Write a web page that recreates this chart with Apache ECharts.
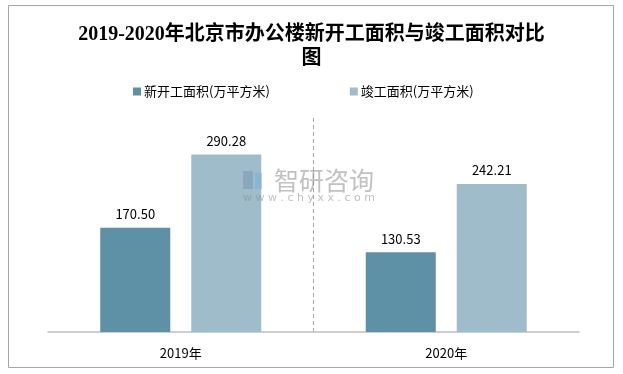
<!DOCTYPE html>
<html><head><meta charset="utf-8">
<script src="https://cdn.jsdelivr.net/npm/echarts@6/dist/echarts.min.js"></script>
<style>html,body{margin:0;padding:0;background:#fff}#c{width:623px;height:374px}</style>
</head><body><div id="c"></div>
<script>
const titleText = '2019-2020年北京市办公楼新开工面积与竣工面积对比\n图';
const categories = ['2019年', '2020年'];
const seriesNames = ['新开工面积(万平方米)', '竣工面积(万平方米)'];
const newStarts = [170.50, 130.53];
const completions = [290.28, 242.21];

const chart = echarts.init(document.getElementById('c'));
const labelStyle = {show: true, position: 'top', distance: 7, color: '#000', fontSize: 13,
  fontFamily: 'Noto Sans CJK SC, sans-serif', formatter: p => p.value.toFixed(2)};
chart.setOption({
  animation: false,
  backgroundColor: '#fff',
  title: {text: titleText, left: 'center', top: 18,
    textStyle: {fontFamily: 'Liberation Serif, Noto Sans CJK SC, serif', fontWeight: 'bold', fontSize: 20, lineHeight: 24, color: '#000'}},
  legend: {top: 80, left: 128, itemGap: 80, itemWidth: 8, itemHeight: 8, icon: 'rect',
    textStyle: {fontFamily: 'Noto Sans CJK SC, sans-serif', fontSize: 13, color: '#000', padding: [0,0,0,-2]},
    data: seriesNames},
  grid: {left: 48, right: 44, top: 118, bottom: 42},
  xAxis: {type: 'category', data: categories,
    axisLine: {lineStyle: {color: '#BFBFBF', width: 1.5}}, axisTick: {show: false},
    axisLabel: {color: '#000', fontSize: 13, margin: 15, fontFamily: 'Noto Sans CJK SC, sans-serif'},
    splitLine: {show: true, showMinLine: false, showMaxLine: false, lineStyle: {color: '#A6A6A6', type: [4, 3], width: 1}}},
  yAxis: {type: 'value', min: 0, max: 350, show: false, splitLine: {show: false}},
  graphic: [
    {type: 'rect', shape: {x: 8.5, y: 5.5, width: 605, height: 362}, style: {fill: 'none', stroke: '#A6A6A6', lineWidth: 1}, silent: true, z: -10},
    {type: 'text', left: 274, top: 168, z: 100, style: {text: '智研咨询', fontSize: 25, fill: 'rgba(140,140,140,0.55)', fontFamily: 'Noto Sans CJK SC, sans-serif'}},
    {type: 'text', left: 243, top: 193, z: 100, style: {text: 'w w w . c h y x x . c o m', fontSize: 11, fill: 'rgba(140,140,140,0.55)', fontFamily: 'DejaVu Sans, sans-serif'}},
    {type: 'rect', z: 100, shape: {x: 243, y: 171, width: 10, height: 18}, style: {fill: 'rgba(100,130,170,0.35)'}},
    {type: 'rect', z: 100, shape: {x: 255, y: 173, width: 7, height: 16}, style: {fill: 'rgba(110,170,220,0.45)'}}
  ],
  series: [
    {name: seriesNames[0], type: 'bar', data: newStarts, barWidth: 70, barGap: '30%',
      itemStyle: {color: '#5E90A6'}, label: labelStyle},
    {name: seriesNames[1], type: 'bar', data: completions, barWidth: 70,
      itemStyle: {color: '#9FBCCA'}, label: labelStyle}
  ]
});
</script></body></html>
